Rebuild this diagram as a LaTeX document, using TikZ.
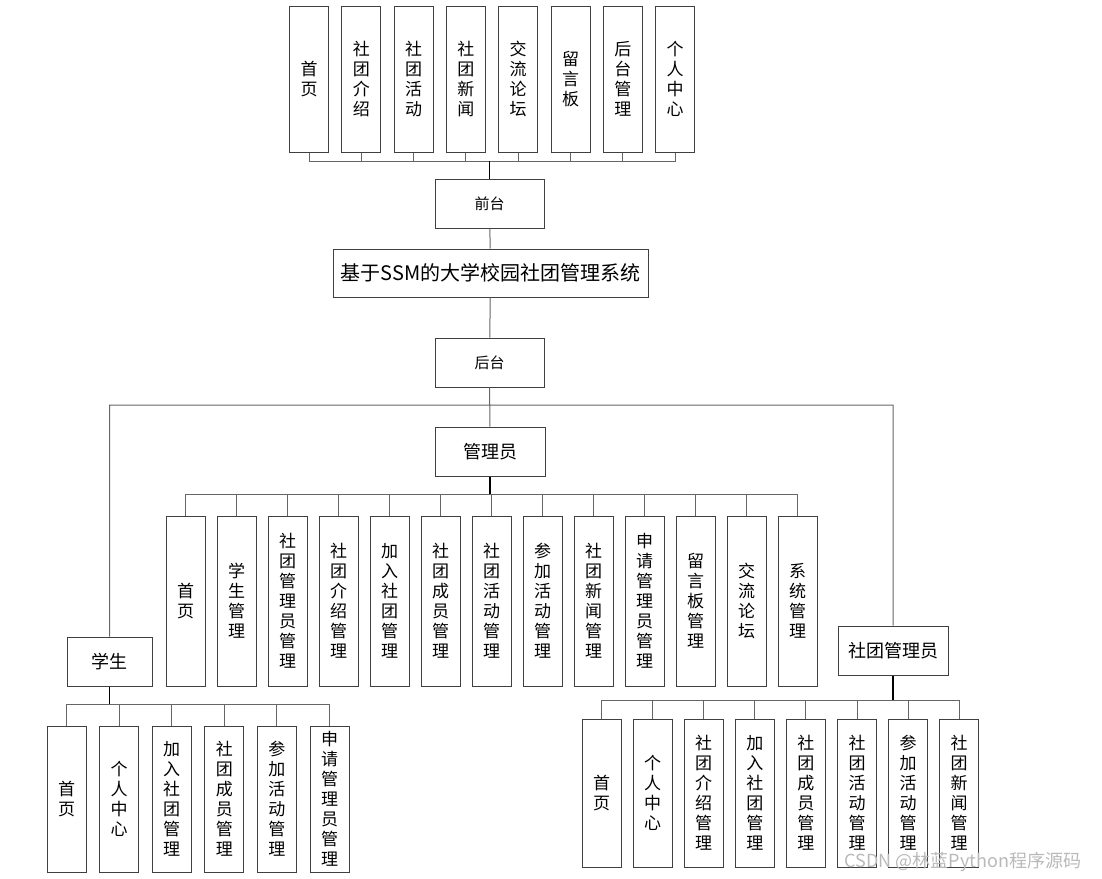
\documentclass[tikz,border=0pt]{standalone}
\usepackage{fontspec}
\setmainfont{Noto Sans CJK SC}
\usepackage{tikz}
\usetikzlibrary{positioning}
\tikzstyle{vb}=[%
      rectangle, draw=black!75, line width=1pt, fill=none,
      minimum width=39pt, minimum height=146pt, inner sep=0pt, align=center,
      font=\fontsize{17}{20}\selectfont
]
\tikzstyle{ab}=[vb, minimum height=170pt]
\tikzstyle{hb}=[%
      rectangle, draw=black!75, line width=1pt, fill=none,
      minimum width=110pt, minimum height=49pt, inner sep=0pt,
      font=\fontsize{18}{22}\selectfont
]
\tikzstyle{sb}=[hb, minimum width=109pt, font=\fontsize{15}{18}\selectfont]
\tikzstyle{ln}=[draw=black!60, line width=1pt]
\tikzstyle{st}=[draw=black, line width=1.5pt]
\begin{document}
\begin{tikzpicture}[x=1pt, y=-1pt]
    \useasboundingbox (0,0) rectangle (1102,878);

    % front end
    \node[vb] (t1) at (309,79)        {首\\页};
    \node[vb] (t2) [right = 12.3pt of t1] {社\\团\\介\\绍};
    \node[vb] (t3) [right = 12.3pt of t2] {社\\团\\活\\动};
    \node[vb] (t4) [right = 12.3pt of t3] {社\\团\\新\\闻};
    \node[vb] (t5) [right = 12.3pt of t4] {交\\流\\论\\坛};
    \node[vb] (t6) [right = 12.3pt of t5] {留\\言\\板};
    \node[vb] (t7) [right = 12.3pt of t6] {后\\台\\管\\理};
    \node[vb] (t8) [right = 12.3pt of t7] {个\\人\\中\\心};
    \coordinate (tbar) at (489.5,161);

    \node[sb] (front) at (489.5,203.5) {前台};
    \node[hb, minimum width=315pt, minimum height=48pt,
          font=\fontsize{20}{24}\selectfont] (title) at (490.5,273) {基于SSM的大学校园社团管理系统};
    \node[sb] (back)  at (489.5,362.5) {后台};
    \coordinate (rbar) at (489.5,405);

    % roles
    \node[hb] (admin) at (490,451.5)  {管理员};
    \node[hb, minimum width=85pt] (stu) at (109.5,661.5) {学生};
    \node[hb] (club)  at (893,650.5)  {社团管理员};

    % admin
    \node[ab] (a1) at (185.5,601)     {首\\页};
    \node[ab] (a2)  [right = 11pt of a1]  {学\\生\\管\\理};
    \node[ab] (a3)  [right = 11pt of a2]  {社\\团\\管\\理\\员\\管\\理};
    \node[ab] (a4)  [right = 11pt of a3]  {社\\团\\介\\绍\\管\\理};
    \node[ab] (a5)  [right = 11pt of a4]  {加\\入\\社\\团\\管\\理};
    \node[ab] (a6)  [right = 11pt of a5]  {社\\团\\成\\员\\管\\理};
    \node[ab] (a7)  [right = 11pt of a6]  {社\\团\\活\\动\\管\\理};
    \node[ab] (a8)  [right = 11pt of a7]  {参\\加\\活\\动\\管\\理};
    \node[ab] (a9)  [right = 11pt of a8]  {社\\团\\新\\闻\\管\\理};
    \node[ab] (a10) [right = 11pt of a9]  {申\\请\\管\\理\\员\\管\\理};
    \node[ab] (a11) [right = 11pt of a10] {留\\言\\板\\管\\理};
    \node[ab] (a12) [right = 11pt of a11] {交\\流\\论\\坛};
    \node[ab] (a13) [right = 11pt of a12] {系\\统\\管\\理};
    \coordinate (abar) at (490,494);

    % student
    \node[vb] (s1) at (66.5,799)      {首\\页};
    \node[vb] (s2) [right = 12.6pt of s1] {个\\人\\中\\心};
    \node[vb] (s3) [right = 12.6pt of s2] {加\\入\\社\\团\\管\\理};
    \node[vb] (s4) [right = 12.6pt of s3] {社\\团\\成\\员\\管\\理};
    \node[vb] (s5) [right = 12.6pt of s4] {参\\加\\活\\动\\管\\理};
    \node[vb] (s6) [right = 12.6pt of s5] {申\\请\\管\\理\\员\\管\\理};
    \coordinate (sbar) at (109.5,704);

    % club manager
    \node[vb, minimum height=148pt] (c1) at (601.5,793) {首\\页};
    \node[vb, minimum height=148pt] (c2) [right = 11.1pt of c1] {个\\人\\中\\心};
    \node[vb, minimum height=148pt] (c3) [right = 11.1pt of c2] {社\\团\\介\\绍\\管\\理};
    \node[vb, minimum height=148pt] (c4) [right = 11.1pt of c3] {加\\入\\社\\团\\管\\理};
    \node[vb, minimum height=148pt] (c5) [right = 11.1pt of c4] {社\\团\\成\\员\\管\\理};
    \node[vb, minimum height=148pt] (c6) [right = 11.1pt of c5] {社\\团\\活\\动\\管\\理};
    \node[vb, minimum height=148pt] (c7) [right = 11.1pt of c6] {参\\加\\活\\动\\管\\理};
    \node[vb, minimum height=148pt] (c8) [right = 11.1pt of c7] {社\\团\\新\\闻\\管\\理};
    \coordinate (cbar) at (893,700);

    \node[text=gray!55, font=\fontsize{18}{18}\selectfont] (wm) at (963,862) {CSDN @林蓝Python程序源码};

    % connectors
    \draw[ln] (t1.south) |- (tbar) (t2.south) |- (tbar) (t3.south) |- (tbar) (t4.south) |- (tbar)
              (t5.south) |- (tbar) (t6.south) |- (tbar) (t7.south) |- (tbar) (t8.south) |- (tbar);
    \draw[st] (tbar) -- (front.north);
    \draw[ln] (front) -- (title)
              (title) -- (back)
              (back) -- (admin)
              (rbar) -| (stu.north)
              (rbar) -| (club.north);
    \draw[st] (admin.south) -- (abar);
    \draw[ln] (a1.north) |- (abar) (a2.north) |- (abar) (a3.north) |- (abar) (a4.north) |- (abar)
              (a5.north) |- (abar) (a6.north) |- (abar) (a7.north) |- (abar) (a8.north) |- (abar)
              (a9.north) |- (abar) (a10.north) |- (abar) (a11.north) |- (abar) (a12.north) |- (abar)
              (a13.north) |- (abar);
    \draw[st] (stu.south) -- (sbar);
    \draw[ln] (s1.north) |- (sbar) (s2.north) |- (sbar) (s3.north) |- (sbar)
              (s4.north) |- (sbar) (s5.north) |- (sbar) (s6.north) |- (sbar);
    \draw[st] (club.south) -- (cbar);
    \draw[ln] (c1.north) |- (cbar) (c2.north) |- (cbar) (c3.north) |- (cbar) (c4.north) |- (cbar)
              (c5.north) |- (cbar) (c6.north) |- (cbar) (c7.north) |- (cbar) (c8.north) |- (cbar);

  \end{tikzpicture}
\end{document}
